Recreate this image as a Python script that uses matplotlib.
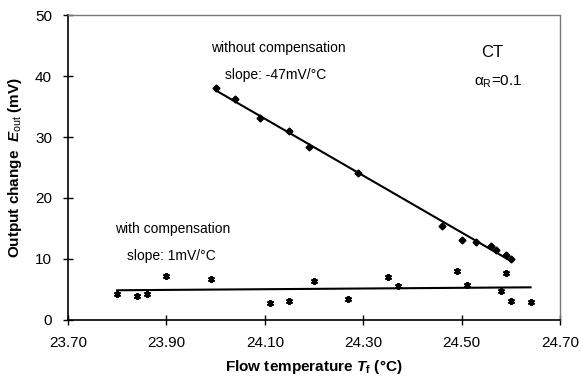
import matplotlib
matplotlib.use("Agg")
import matplotlib.pyplot as plt
import numpy as np

plt.rcParams['font.family'] = ['Liberation Sans', 'DejaVu Sans']
plt.rcParams['mathtext.fontset'] = 'custom'
plt.rcParams['mathtext.rm'] = 'Liberation Sans'
plt.rcParams['mathtext.it'] = 'Liberation Sans:italic'
plt.rcParams['mathtext.bf'] = 'Liberation Sans:bold'
plt.rcParams['mathtext.bfit'] = 'Liberation Sans:bold:italic'

# without compensation
t_wo = [24.00, 24.04, 24.09, 24.15, 24.19, 24.29, 24.46, 24.50, 24.53,
        24.56, 24.57, 24.59, 24.60]
e_wo = [38.0, 36.2, 33.1, 31.0, 28.4, 24.1, 15.4, 13.1, 12.8, 12.1, 11.5, 10.7, 10.0]

# with compensation
t_w = [23.80, 23.84, 23.86, 23.90, 23.99, 24.11, 24.15, 24.20, 24.27, 24.35,
       24.37, 24.49, 24.51, 24.58, 24.59, 24.60, 24.64]
e_w = [4.3, 3.9, 4.3, 7.2, 6.7, 2.8, 3.1, 6.4, 3.4, 7.1, 5.5, 8.0, 5.7, 4.8, 7.7, 3.1, 3.0]

xticks = [23.70, 23.90, 24.10, 24.30, 24.50, 24.70]
yticks = [0, 10, 20, 30, 40, 50]

fig = plt.figure(figsize=(5.81, 3.79), dpi=100)
ax = fig.add_axes([0.117, 0.156, 0.847, 0.804])

# linear trend lines
for t, e in [(t_wo, e_wo), (t_w, e_w)]:
    p = np.polyfit(t, e, 1)
    xs = np.array([min(t), max(t)])
    ax.plot(xs, np.polyval(p, xs), color='black', lw=1.5)

ax.plot(t_wo, e_wo, 'D', color='black', ms=3.5, ls='none')
ax.plot(t_w, e_w, marker=(6, 2, 0), color='black', ms=5, mew=1.4, ls='none')

ax.set_xlim(23.70, 24.70)
ax.set_ylim(0, 50)
ax.set_xticks(xticks)
ax.set_xticklabels(['%.2f' % v for v in xticks], fontsize=11)
ax.set_yticks(yticks)
ax.set_yticklabels([str(v) for v in yticks], fontsize=11)
ax.tick_params(direction='inout', length=7, width=1, pad=8)

for s in ['top', 'right']:
    ax.spines[s].set_linestyle((0, (1, 1)))
    ax.spines[s].set_color('#777777')
    ax.spines[s].set_linewidth(1)
for s in ['left', 'bottom']:
    ax.spines[s].set_linewidth(1.2)

ax.set_xlabel(r'Flow temperature $\mathbfit{T}_{\mathbf{f}}$ (°C)', fontsize=11,
              fontweight='bold', labelpad=6)
ax.set_ylabel(r'Output change  $\mathbfit{E}_{\mathrm{out}}$ (mV)', fontsize=11,
              fontweight='bold', labelpad=8)

ax.text(23.99, 44.6, 'without compensation', fontsize=10, va='center')
ax.text(24.02, 40.2, 'slope: -47mV/°C', fontsize=10, va='center')
ax.text(24.54, 43.8, 'CT', fontsize=12, va='center')
ax.text(24.525, 39.0, r'α$_{\mathrm{R}}$=0.1', fontsize=11, va='center')
ax.text(23.795, 14.9, 'with compensation', fontsize=10, va='center')
ax.text(23.82, 10.5, 'slope: 1mV/°C', fontsize=10, va='center')

fig.savefig('out.png', dpi=100)
